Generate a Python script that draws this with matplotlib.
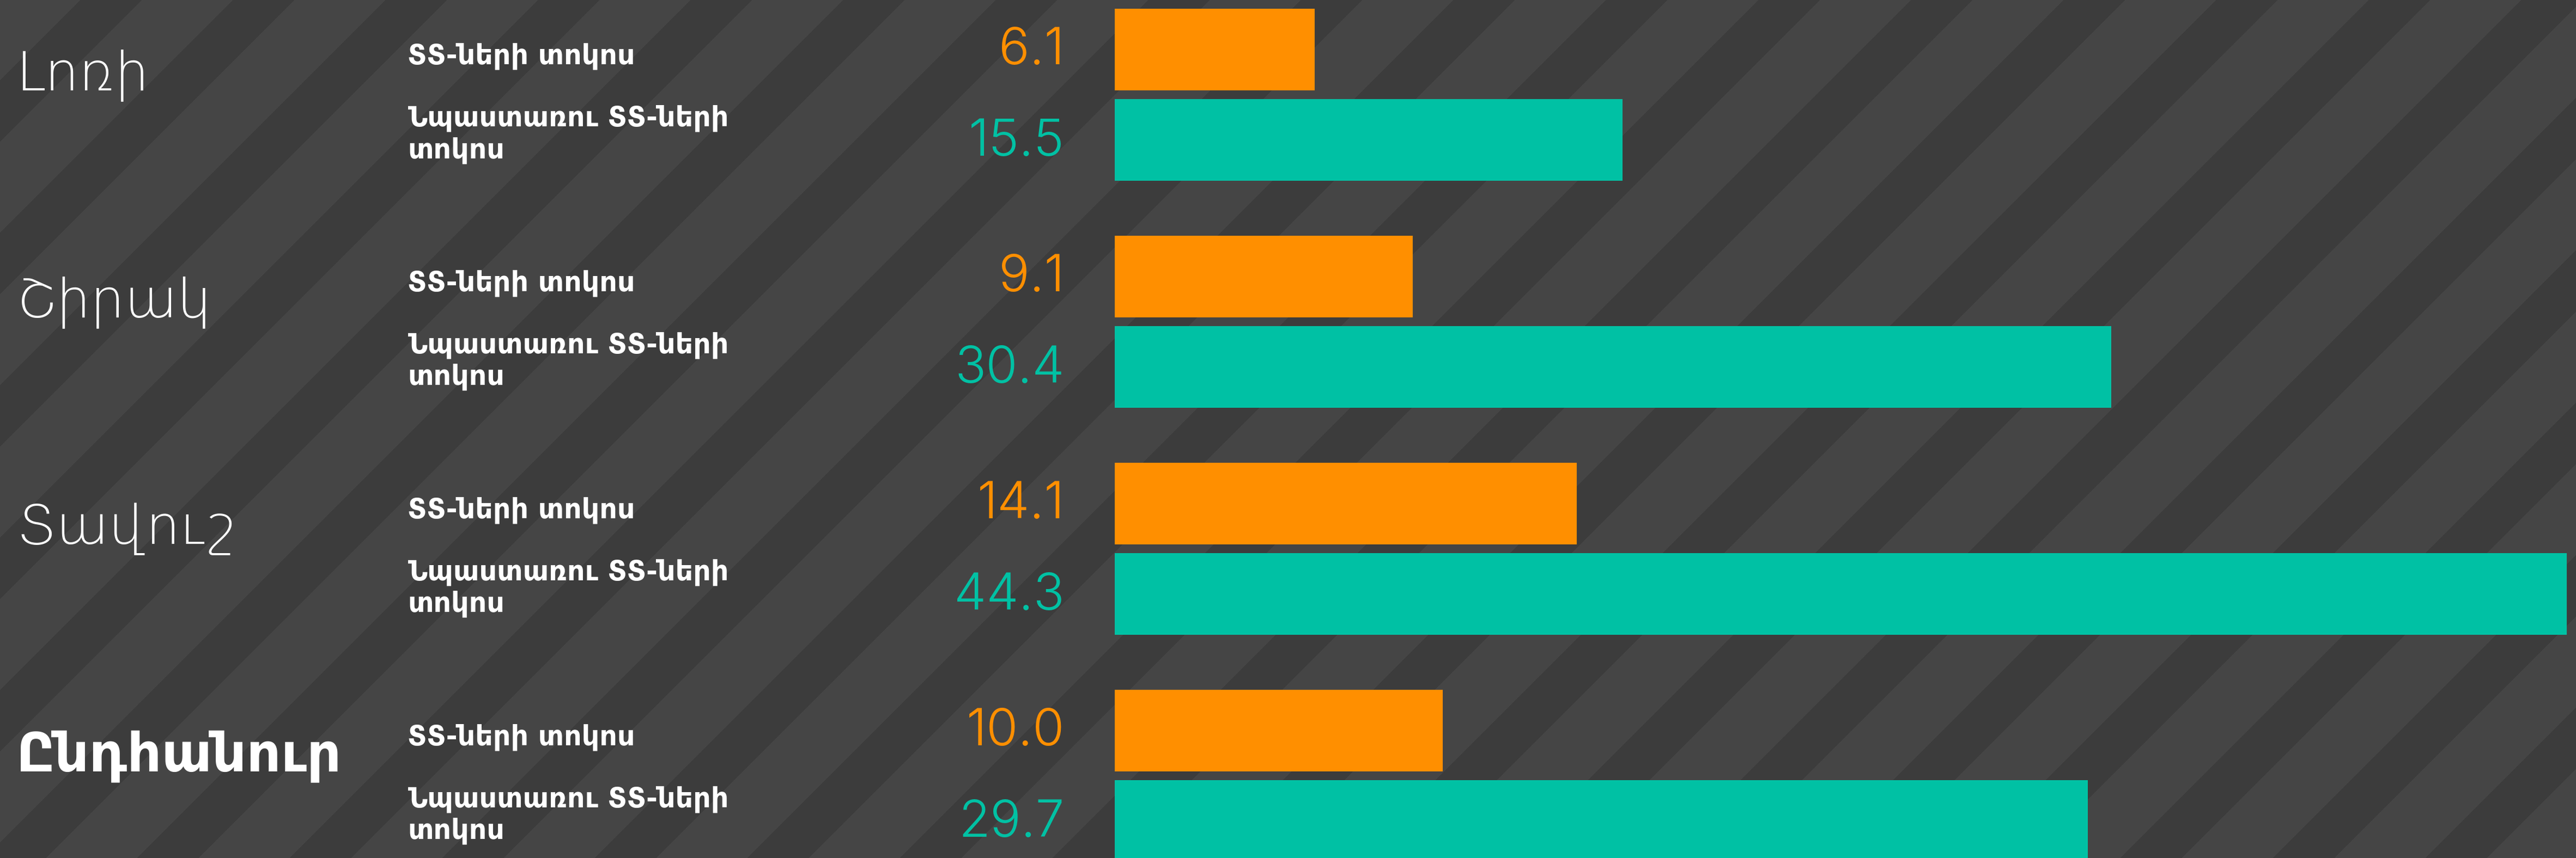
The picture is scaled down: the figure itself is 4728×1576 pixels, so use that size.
import numpy as np
import matplotlib
matplotlib.use("Agg")
import matplotlib.pyplot as plt
from matplotlib.colors import ListedColormap
from matplotlib.transforms import blended_transform_factory

# ---- data -------------------------------------------------------------
regions = ["Լոռի", "Շիրակ", "Տավուշ", "Ընդհանուր"]
series_labels = ["ՏՏ-ների տոկոս", "Նպաստառու ՏՏ-ների\nտոկոս"]
household_pct = [6.1, 9.1, 14.1, 10.0]
beneficiary_pct = [15.5, 30.4, 44.3, 29.7]

# ---- style ------------------------------------------------------------
ORANGE = "#FF8F00"
TEAL = "#00C1A4"
STRIPE_DARK = "#3c3c3c"
STRIPE_LIGHT = "#454545"
ARM_FONT = ["DejaVu Sans"]
NUM_FONT = ["Inter", "DejaVu Sans"]

W, H, DPI = 4728, 1576, 100
BAR_X0 = 2046          # pixel where the value axis starts
PX_PER_UNIT = 60.15    # pixels per percentage point
ROW = 166.0            # pixels between the two bars of a group
TOP = 91.0             # pixel centre of the first bar
GROUP_PITCH = 2.512    # in rows
BAR_H = 0.904          # in rows

fig = plt.figure(figsize=(W / DPI, H / DPI), dpi=DPI)

# diagonal striped backdrop
bg = fig.add_axes([0, 0, 1, 1])
bg.axis("off")
yy, xx = np.mgrid[0:H, 0:W]
phase = (xx + yy) % 280
stripes = np.where((phase >= 147) & (phase < 260), 0, 1)
bg.imshow(stripes, cmap=ListedColormap([STRIPE_DARK, STRIPE_LIGHT]),
          interpolation="nearest", aspect="auto")

# bars
ax = fig.add_axes([BAR_X0 / W, 0, 1 - BAR_X0 / W, 1])
ax.patch.set_alpha(0)
ax.axis("off")
groups = np.arange(len(regions)) * GROUP_PITCH
y_hh = groups
y_ben = groups + 1
ax.barh(y_hh, household_pct, height=BAR_H, color=ORANGE, linewidth=0)
ax.barh(y_ben, beneficiary_pct, height=BAR_H, color=TEAL, linewidth=0)
ax.set_xlim(0, (W - BAR_X0) / PX_PER_UNIT)
ax.set_ylim((H - TOP) / ROW, -TOP / ROW)

trans = blended_transform_factory(fig.transFigure, ax.transData)

for i, name in enumerate(regions):
    bold = i == len(regions) - 1
    ax.text(30 / W, groups[i] + 74 / ROW, name, transform=trans,
            ha="left", va="baseline", color="white", fontsize=71,
            family=ARM_FONT, weight="bold" if bold else 200)
    ax.text(748 / W, y_hh[i] + 27 / ROW, series_labels[0], transform=trans,
            ha="left", va="baseline", color="white", fontsize=36.5,
            family=ARM_FONT, weight="bold")
    ax.text(748 / W, y_ben[i] + 34 / ROW, series_labels[1], transform=trans,
            ha="left", va="baseline", color="white", fontsize=36.5,
            family=ARM_FONT, weight="bold", linespacing=1.25)
    ax.text(1954 / W, y_hh[i] + 27 / ROW, f"{household_pct[i]:.1f}",
            transform=trans, ha="right", va="baseline", color=ORANGE,
            fontsize=68, family=NUM_FONT, weight=300)
    ax.text(1954 / W, y_ben[i] + 29 / ROW, f"{beneficiary_pct[i]:.1f}",
            transform=trans, ha="right", va="baseline", color=TEAL,
            fontsize=68, family=NUM_FONT, weight=300)

fig.savefig("out.png", dpi=DPI)
